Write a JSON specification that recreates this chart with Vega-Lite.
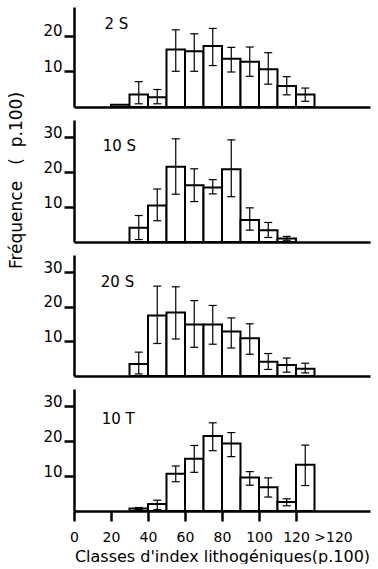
{
  "$schema": "https://vega.github.io/schema/vega-lite/v6.json",
  "background": "white",
  "padding": {"left": 7, "top": 7, "right": 5, "bottom": 0},
  "spacing": 13,
  "bounds": "flush",
  "config": {
    "view": {"stroke": null},
    "font": "DejaVu Sans",
    "axis": {
      "grid": false,
      "minExtent": 0,
      "domainColor": "black",
      "domainWidth": 2.5,
      "tickColor": "black",
      "tickWidth": 2.5,
      "tickSize": 10,
      "labelColor": "black",
      "labelFont": "DejaVu Sans",
      "titleFont": "DejaVu Sans",
      "titleColor": "black",
      "titleFontWeight": "normal"
    }
  },
  "datasets": {
    "bars": [
      {"panel": "2 S", "lo": 20, "hi": 30, "mid": 25, "value": 0.6, "elo": null, "ehi": null},
      {"panel": "2 S", "lo": 30, "hi": 40, "mid": 35, "value": 3.5, "elo": 0.9, "ehi": 7.1},
      {"panel": "2 S", "lo": 40, "hi": 50, "mid": 45, "value": 2.7, "elo": 0.9, "ehi": 4.9},
      {"panel": "2 S", "lo": 50, "hi": 60, "mid": 55, "value": 16.1, "elo": 10.0, "ehi": 21.6},
      {"panel": "2 S", "lo": 60, "hi": 70, "mid": 65, "value": 15.6, "elo": 10.0, "ehi": 20.5},
      {"panel": "2 S", "lo": 70, "hi": 80, "mid": 75, "value": 17.1, "elo": 11.6, "ehi": 22.0},
      {"panel": "2 S", "lo": 80, "hi": 90, "mid": 85, "value": 13.5, "elo": 9.8, "ehi": 16.7},
      {"panel": "2 S", "lo": 90, "hi": 100, "mid": 95, "value": 12.7, "elo": 8.6, "ehi": 16.8},
      {"panel": "2 S", "lo": 100, "hi": 110, "mid": 105, "value": 10.6, "elo": 6.4, "ehi": 15.2},
      {"panel": "2 S", "lo": 110, "hi": 120, "mid": 115, "value": 5.9, "elo": 3.4, "ehi": 8.5},
      {"panel": "2 S", "lo": 120, "hi": 130, "mid": 125, "value": 3.5, "elo": 1.6, "ehi": 5.3},

      {"panel": "10 S", "lo": 30, "hi": 40, "mid": 35, "value": 4.1, "elo": 0.7, "ehi": 7.6},
      {"panel": "10 S", "lo": 40, "hi": 50, "mid": 45, "value": 10.5, "elo": 6.1, "ehi": 15.2},
      {"panel": "10 S", "lo": 50, "hi": 60, "mid": 55, "value": 21.6, "elo": 13.7, "ehi": 29.6},
      {"panel": "10 S", "lo": 60, "hi": 70, "mid": 65, "value": 16.3, "elo": 11.6, "ehi": 21.0},
      {"panel": "10 S", "lo": 70, "hi": 80, "mid": 75, "value": 15.6, "elo": 13.8, "ehi": 17.9},
      {"panel": "10 S", "lo": 80, "hi": 90, "mid": 85, "value": 20.9, "elo": 13.0, "ehi": 29.3},
      {"panel": "10 S", "lo": 90, "hi": 100, "mid": 95, "value": 6.3, "elo": 3.4, "ehi": 9.8},
      {"panel": "10 S", "lo": 100, "hi": 110, "mid": 105, "value": 3.4, "elo": 1.3, "ehi": 5.6},
      {"panel": "10 S", "lo": 110, "hi": 120, "mid": 115, "value": 1.0, "elo": 0.5, "ehi": 1.6},

      {"panel": "20 S", "lo": 30, "hi": 40, "mid": 35, "value": 3.5, "elo": 0.6, "ehi": 6.9},
      {"panel": "20 S", "lo": 40, "hi": 50, "mid": 45, "value": 17.5, "elo": 9.4, "ehi": 26.0},
      {"panel": "20 S", "lo": 50, "hi": 60, "mid": 55, "value": 18.4, "elo": 10.7, "ehi": 25.8},
      {"panel": "20 S", "lo": 60, "hi": 70, "mid": 65, "value": 14.9, "elo": 8.3, "ehi": 21.8},
      {"panel": "20 S", "lo": 70, "hi": 80, "mid": 75, "value": 14.9, "elo": 9.2, "ehi": 20.4},
      {"panel": "20 S", "lo": 80, "hi": 90, "mid": 85, "value": 12.9, "elo": 8.1, "ehi": 16.8},
      {"panel": "20 S", "lo": 90, "hi": 100, "mid": 95, "value": 10.9, "elo": 6.3, "ehi": 15.1},
      {"panel": "20 S", "lo": 100, "hi": 110, "mid": 105, "value": 4.1, "elo": 1.9, "ehi": 6.5},
      {"panel": "20 S", "lo": 110, "hi": 120, "mid": 115, "value": 3.2, "elo": 1.1, "ehi": 5.2},
      {"panel": "20 S", "lo": 120, "hi": 130, "mid": 125, "value": 2.1, "elo": 0.9, "ehi": 3.7},

      {"panel": "10 T", "lo": 30, "hi": 40, "mid": 35, "value": 0.7, "elo": 0.4, "ehi": 1.0},
      {"panel": "10 T", "lo": 40, "hi": 50, "mid": 45, "value": 2.0, "elo": 0.4, "ehi": 3.1},
      {"panel": "10 T", "lo": 50, "hi": 60, "mid": 55, "value": 10.7, "elo": 8.4, "ehi": 12.9},
      {"panel": "10 T", "lo": 60, "hi": 70, "mid": 65, "value": 15.0, "elo": 11.1, "ehi": 18.8},
      {"panel": "10 T", "lo": 70, "hi": 80, "mid": 75, "value": 21.5, "elo": 17.3, "ehi": 25.3},
      {"panel": "10 T", "lo": 80, "hi": 90, "mid": 85, "value": 19.4, "elo": 15.6, "ehi": 22.5},
      {"panel": "10 T", "lo": 90, "hi": 100, "mid": 95, "value": 9.6, "elo": 7.4, "ehi": 11.3},
      {"panel": "10 T", "lo": 100, "hi": 110, "mid": 105, "value": 6.8, "elo": 4.0, "ehi": 9.5},
      {"panel": "10 T", "lo": 110, "hi": 120, "mid": 115, "value": 2.6, "elo": 1.5, "ehi": 3.5},
      {"panel": "10 T", "lo": 120, "hi": 130, "mid": 125, "value": 13.3, "elo": 7.3, "ehi": 18.9}
    ],
    "labels": [
      {"panel": "2 S", "x": 16.5, "y": 23.3, "text": "2 S"},
      {"panel": "10 S", "x": 15.5, "y": 27.4, "text": "10 S"},
      {"panel": "20 S", "x": 14.5, "y": 27.2, "text": "20 S"},
      {"panel": "10 T", "x": 15.0, "y": 26.3, "text": "10 T"}
    ]
  },
  "vconcat": [
    {
      "width": 296,
      "height": 100,
      "layer": [
        {
          "data": {"name": "bars"},
          "transform": [{"filter": "datum.panel == '2 S'"}],
          "mark": {"type": "bar", "fill": "white", "stroke": "black", "strokeWidth": 2},
          "encoding": {
            "x": {"field": "lo", "type": "quantitative", "scale": {"domain": [0, 156]},
                  "axis": {"labels": false, "ticks": false, "title": null}},
            "x2": {"field": "hi"},
            "y": {"field": "value", "type": "quantitative", "scale": {"domain": [0, 27]},
                  "axis": {"values": [10, 20], "title": null, "labelBaseline": "alphabetic", "labelPadding": 2, "labelFontSize": 15}},
            "y2": {"datum": 0}
          }
        },
        {
          "data": {"name": "bars"},
          "transform": [{"filter": "datum.panel == '2 S' && datum.elo != null"}],
          "mark": {"type": "rule", "color": "black", "strokeWidth": 1.2},
          "encoding": {"x": {"field": "mid", "type": "quantitative"}, "y": {"field": "elo", "type": "quantitative"}, "y2": {"field": "ehi"}}
        },
        {
          "data": {"name": "bars"},
          "transform": [{"filter": "datum.panel == '2 S' && datum.elo != null"}],
          "mark": {"type": "tick", "orient": "horizontal", "color": "black", "size": 8, "thickness": 1.2, "opacity": 1},
          "encoding": {"x": {"field": "mid", "type": "quantitative"}, "y": {"field": "elo", "type": "quantitative"}}
        },
        {
          "data": {"name": "bars"},
          "transform": [{"filter": "datum.panel == '2 S' && datum.elo != null"}],
          "mark": {"type": "tick", "orient": "horizontal", "color": "black", "size": 8, "thickness": 1.2, "opacity": 1},
          "encoding": {"x": {"field": "mid", "type": "quantitative"}, "y": {"field": "ehi", "type": "quantitative"}}
        },
        {
          "data": {"name": "labels"},
          "transform": [{"filter": "datum.panel == '2 S'"}],
          "mark": {"type": "text", "align": "left", "baseline": "middle", "fontSize": 15, "color": "black"},
          "encoding": {"x": {"field": "x", "type": "quantitative"}, "y": {"field": "y", "type": "quantitative"}, "text": {"field": "text"}}
        }
      ]
    },
    {
      "width": 296,
      "height": 122,
      "layer": [
        {
          "data": {"name": "bars"},
          "transform": [{"filter": "datum.panel == '10 S'"}],
          "mark": {"type": "bar", "fill": "white", "stroke": "black", "strokeWidth": 2},
          "encoding": {
            "x": {"field": "lo", "type": "quantitative", "scale": {"domain": [0, 156]},
                  "axis": {"labels": false, "ticks": false, "title": null}},
            "x2": {"field": "hi"},
            "y": {"field": "value", "type": "quantitative", "scale": {"domain": [0, 33]},
                  "axis": {"values": [10, 20, 30], "labelBaseline": "alphabetic", "labelPadding": 2, "labelFontSize": 15,
                           "title": "Fréquence\u00a0\u00a0\u00a0(\u00a0\u00a0p.100)", "titleX": -58, "titleY": 60, "titleAngle": 270,
                           "titleBaseline": "middle", "titleAlign": "center", "titleFontSize": 17}},
            "y2": {"datum": 0}
          }
        },
        {
          "data": {"name": "bars"},
          "transform": [{"filter": "datum.panel == '10 S' && datum.elo != null"}],
          "mark": {"type": "rule", "color": "black", "strokeWidth": 1.2},
          "encoding": {"x": {"field": "mid", "type": "quantitative"}, "y": {"field": "elo", "type": "quantitative"}, "y2": {"field": "ehi"}}
        },
        {
          "data": {"name": "bars"},
          "transform": [{"filter": "datum.panel == '10 S' && datum.elo != null"}],
          "mark": {"type": "tick", "orient": "horizontal", "color": "black", "size": 8, "thickness": 1.2, "opacity": 1},
          "encoding": {"x": {"field": "mid", "type": "quantitative"}, "y": {"field": "elo", "type": "quantitative"}}
        },
        {
          "data": {"name": "bars"},
          "transform": [{"filter": "datum.panel == '10 S' && datum.elo != null"}],
          "mark": {"type": "tick", "orient": "horizontal", "color": "black", "size": 8, "thickness": 1.2, "opacity": 1},
          "encoding": {"x": {"field": "mid", "type": "quantitative"}, "y": {"field": "ehi", "type": "quantitative"}}
        },
        {
          "data": {"name": "labels"},
          "transform": [{"filter": "datum.panel == '10 S'"}],
          "mark": {"type": "text", "align": "left", "baseline": "middle", "fontSize": 15, "color": "black"},
          "encoding": {"x": {"field": "x", "type": "quantitative"}, "y": {"field": "y", "type": "quantitative"}, "text": {"field": "text"}}
        }
      ]
    },
    {
      "width": 296,
      "height": 121,
      "layer": [
        {
          "data": {"name": "bars"},
          "transform": [{"filter": "datum.panel == '20 S'"}],
          "mark": {"type": "bar", "fill": "white", "stroke": "black", "strokeWidth": 2},
          "encoding": {
            "x": {"field": "lo", "type": "quantitative", "scale": {"domain": [0, 156]},
                  "axis": {"labels": false, "ticks": false, "title": null}},
            "x2": {"field": "hi"},
            "y": {"field": "value", "type": "quantitative", "scale": {"domain": [0, 32]},
                  "axis": {"values": [10, 20, 30], "title": null, "labelBaseline": "alphabetic", "labelPadding": 2, "labelFontSize": 15}},
            "y2": {"datum": 0}
          }
        },
        {
          "data": {"name": "bars"},
          "transform": [{"filter": "datum.panel == '20 S' && datum.elo != null"}],
          "mark": {"type": "rule", "color": "black", "strokeWidth": 1.2},
          "encoding": {"x": {"field": "mid", "type": "quantitative"}, "y": {"field": "elo", "type": "quantitative"}, "y2": {"field": "ehi"}}
        },
        {
          "data": {"name": "bars"},
          "transform": [{"filter": "datum.panel == '20 S' && datum.elo != null"}],
          "mark": {"type": "tick", "orient": "horizontal", "color": "black", "size": 8, "thickness": 1.2, "opacity": 1},
          "encoding": {"x": {"field": "mid", "type": "quantitative"}, "y": {"field": "elo", "type": "quantitative"}}
        },
        {
          "data": {"name": "bars"},
          "transform": [{"filter": "datum.panel == '20 S' && datum.elo != null"}],
          "mark": {"type": "tick", "orient": "horizontal", "color": "black", "size": 8, "thickness": 1.2, "opacity": 1},
          "encoding": {"x": {"field": "mid", "type": "quantitative"}, "y": {"field": "ehi", "type": "quantitative"}}
        },
        {
          "data": {"name": "labels"},
          "transform": [{"filter": "datum.panel == '20 S'"}],
          "mark": {"type": "text", "align": "left", "baseline": "middle", "fontSize": 15, "color": "black"},
          "encoding": {"x": {"field": "x", "type": "quantitative"}, "y": {"field": "y", "type": "quantitative"}, "text": {"field": "text"}}
        }
      ]
    },
    {
      "width": 296,
      "height": 122,
      "layer": [
        {
          "data": {"name": "bars"},
          "transform": [{"filter": "datum.panel == '10 T'"}],
          "mark": {"type": "bar", "fill": "white", "stroke": "black", "strokeWidth": 2},
          "encoding": {
            "x": {"field": "lo", "type": "quantitative", "scale": {"domain": [0, 156]},
                  "axis": {"values": [0, 10, 20, 30, 40, 50, 60, 70, 80, 90, 100, 110, 120, 130, 140],
                           "labelExpr": "datum.value == 140 ? '>120' : (datum.value % 20 == 0 ? datum.label : '')",
                           "labelOverlap": false, "labelFlush": false, "labelBound": false,
                           "labelFontSize": 14, "labelPadding": 9,
                           "tickOpacity": {"condition": {"test": "datum.value == 140", "value": 0}, "value": 1},
                           "title": "Classes d'index lithogéniques(p.100)", "titleFontSize": 16, "titlePadding": 4}},
            "x2": {"field": "hi"},
            "y": {"field": "value", "type": "quantitative", "scale": {"domain": [0, 32.6]},
                  "axis": {"values": [10, 20, 30], "title": null, "labelBaseline": "alphabetic", "labelPadding": 2, "labelFontSize": 15}},
            "y2": {"datum": 0}
          }
        },
        {
          "data": {"name": "bars"},
          "transform": [{"filter": "datum.panel == '10 T' && datum.elo != null"}],
          "mark": {"type": "rule", "color": "black", "strokeWidth": 1.2},
          "encoding": {"x": {"field": "mid", "type": "quantitative"}, "y": {"field": "elo", "type": "quantitative"}, "y2": {"field": "ehi"}}
        },
        {
          "data": {"name": "bars"},
          "transform": [{"filter": "datum.panel == '10 T' && datum.elo != null"}],
          "mark": {"type": "tick", "orient": "horizontal", "color": "black", "size": 8, "thickness": 1.2, "opacity": 1},
          "encoding": {"x": {"field": "mid", "type": "quantitative"}, "y": {"field": "elo", "type": "quantitative"}}
        },
        {
          "data": {"name": "bars"},
          "transform": [{"filter": "datum.panel == '10 T' && datum.elo != null"}],
          "mark": {"type": "tick", "orient": "horizontal", "color": "black", "size": 8, "thickness": 1.2, "opacity": 1},
          "encoding": {"x": {"field": "mid", "type": "quantitative"}, "y": {"field": "ehi", "type": "quantitative"}}
        },
        {
          "data": {"name": "labels"},
          "transform": [{"filter": "datum.panel == '10 T'"}],
          "mark": {"type": "text", "align": "left", "baseline": "middle", "fontSize": 15, "color": "black"},
          "encoding": {"x": {"field": "x", "type": "quantitative"}, "y": {"field": "y", "type": "quantitative"}, "text": {"field": "text"}}
        }
      ]
    }
  ]
}
